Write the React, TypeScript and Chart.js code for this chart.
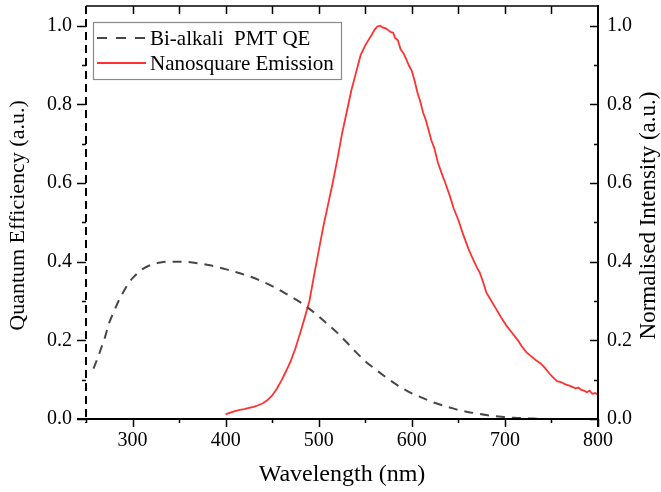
import React, { useEffect, useRef } from 'react';
import { Chart, registerables } from 'chart.js';

Chart.register(...registerables);

const qeWavelength = [258, 262, 266, 270, 275, 280, 285, 290, 295, 300, 310, 320, 330, 340, 350, 360, 370, 380, 390, 400, 410, 420, 430, 440, 450, 460, 470, 480, 490, 500, 510, 520, 530, 540, 550, 560, 570, 580, 590, 600, 610, 620, 630, 640, 650, 660, 670, 680, 690, 700, 710, 720, 730, 740];
const qeValues = [0.128, 0.152, 0.178, 0.205, 0.245, 0.273, 0.3, 0.322, 0.343, 0.358, 0.38, 0.392, 0.398, 0.4, 0.4, 0.399, 0.396, 0.392, 0.387, 0.381, 0.374, 0.367, 0.359, 0.349, 0.338, 0.325, 0.311, 0.297, 0.28, 0.261, 0.24, 0.219, 0.195, 0.17, 0.147, 0.128, 0.11, 0.093, 0.078, 0.065, 0.055, 0.045, 0.037, 0.03, 0.023, 0.018, 0.014, 0.01, 0.007, 0.005, 0.003, 0.002, 0.001, 0.0];

const emWavelength = [400, 405, 410, 415, 420, 425, 430, 435, 440, 445, 450, 455, 460, 465, 470, 475, 480, 485, 490, 495, 500, 505, 510, 515, 520, 525, 530, 535, 540, 545, 550, 553, 557, 560, 563, 566, 569, 572, 575, 577, 580, 582, 585, 588, 591, 594, 597, 600, 603, 606, 609, 612, 615, 618, 621, 624, 628, 632, 636, 641, 645, 650, 655, 661, 665, 670, 673, 677, 680, 685, 691, 696, 702, 708, 714, 718, 723, 728, 733, 738, 743, 748, 752, 756, 760, 765, 770, 773, 776, 779, 782, 785, 788, 791, 794, 797, 800];
const emValues = [0.012, 0.016, 0.02, 0.023, 0.025, 0.028, 0.031, 0.035, 0.04, 0.048, 0.06, 0.077, 0.098, 0.122, 0.148, 0.18, 0.218, 0.258, 0.3, 0.365, 0.428, 0.49, 0.545, 0.6, 0.66, 0.725, 0.78, 0.835, 0.88, 0.925, 0.95, 0.962, 0.977, 0.99, 0.998, 1.0, 0.995, 0.993, 0.988, 0.984, 0.982, 0.969, 0.963, 0.94, 0.93, 0.915, 0.898, 0.885, 0.86, 0.83, 0.808, 0.78, 0.76, 0.735, 0.708, 0.69, 0.652, 0.625, 0.6, 0.566, 0.535, 0.506, 0.47, 0.432, 0.41, 0.385, 0.372, 0.345, 0.322, 0.302, 0.278, 0.258, 0.236, 0.218, 0.2, 0.185, 0.17, 0.16, 0.15, 0.142, 0.13, 0.115, 0.105, 0.096, 0.094, 0.088, 0.084, 0.081, 0.078, 0.08, 0.074, 0.072, 0.068, 0.072, 0.064, 0.066, 0.062];

const xTickValues = [300, 400, 500, 600, 700, 800];
const xMinorValues = [250, 350, 450, 550, 650, 750];
const xTopTickValues = [250, 300, 350, 400, 450, 500, 550, 600, 650, 700, 750, 800];
const yTickValues = [0, 0.2, 0.4, 0.6, 0.8, 1.0];
const yMinorValues = [0.1, 0.3, 0.5, 0.7, 0.9];
const legendLabels = ['Bi-alkali  PMT QE', 'Nanosquare Emission'];
const xTitle = 'Wavelength (nm)';
const yLeftTitle = 'Quantum Efficiency (a.u.)';
const yRightTitle = 'Normalised Intensity (a.u.)';

const FONT = '"Liberation Serif", "Times New Roman", serif';
const QE_COLOR = '#474747';
const EM_COLOR = '#ff3232';

const decorPlugin = {
  id: 'decor',
  afterDraw(chart: any) {
    const { ctx, chartArea } = chart;
    const { left, right, top, bottom } = chartArea;
    const xs = chart.scales.x;
    const yl = chart.scales.y;
    const yr = chart.scales.y1;
    ctx.save();
    ctx.strokeStyle = '#000';
    ctx.lineWidth = 1.5;
    ctx.beginPath();
    ctx.moveTo(left, top);
    ctx.lineTo(right, top);
    ctx.stroke();
    xTopTickValues.forEach((v) => {
      const px = Math.round(xs.getPixelForValue(v)) + 0.5;
      if (px < left + 2 || px > right - 2) return;
      ctx.beginPath();
      ctx.moveTo(px, top);
      ctx.lineTo(px, top + 8);
      ctx.stroke();
    });
    ctx.lineWidth = 2;
    ctx.beginPath();
    ctx.moveTo(left - 9, bottom);
    ctx.lineTo(right, bottom);
    ctx.stroke();
    ctx.lineWidth = 1.5;
    xTickValues.forEach((v) => {
      const px = Math.round(xs.getPixelForValue(v)) + 0.5;
      ctx.beginPath();
      ctx.moveTo(px, bottom);
      ctx.lineTo(px, bottom + 8);
      ctx.stroke();
    });
    xMinorValues.forEach((v) => {
      const px = Math.round(xs.getPixelForValue(v)) + 0.5;
      ctx.beginPath();
      ctx.moveTo(px, bottom);
      ctx.lineTo(px, bottom + 4);
      ctx.stroke();
    });
    ctx.lineWidth = 2;
    ctx.beginPath();
    ctx.moveTo(right, top - 1);
    ctx.lineTo(right, bottom + 8);
    ctx.stroke();
    ctx.lineWidth = 1.5;
    yTickValues.forEach((v) => {
      const py = Math.round(yr.getPixelForValue(v)) + 0.5;
      ctx.beginPath();
      ctx.moveTo(right - 8, py);
      ctx.lineTo(right, py);
      ctx.stroke();
    });
    yMinorValues.forEach((v) => {
      const py = Math.round(yr.getPixelForValue(v)) + 0.5;
      ctx.beginPath();
      ctx.moveTo(right - 4, py);
      ctx.lineTo(right, py);
      ctx.stroke();
    });
    ctx.lineWidth = 2;
    ctx.setLineDash([8, 5]);
    ctx.beginPath();
    ctx.moveTo(left, top);
    ctx.lineTo(left, bottom + 4);
    ctx.stroke();
    ctx.setLineDash([]);
    ctx.lineWidth = 1.5;
    yTickValues.forEach((v) => {
      const py = Math.round(yl.getPixelForValue(v)) + 0.5;
      ctx.beginPath();
      ctx.moveTo(left - 9, py);
      ctx.lineTo(left, py);
      ctx.stroke();
    });
    yMinorValues.forEach((v) => {
      const py = Math.round(yl.getPixelForValue(v)) + 0.5;
      ctx.beginPath();
      ctx.moveTo(left - 4, py);
      ctx.lineTo(left, py);
      ctx.stroke();
    });

    ctx.fillStyle = '#000';
    ctx.textAlign = 'center';
    ctx.textBaseline = 'middle';
    ctx.font = `24px ${FONT}`;
    ctx.fillText(xTitle, (left + right) / 2, 475);
    ctx.font = `22px ${FONT}`;
    ctx.save();
    ctx.translate(18, (top + bottom) / 2 + 3);
    ctx.rotate(-Math.PI / 2);
    ctx.fillText(yLeftTitle, 0, 0);
    ctx.restore();
    ctx.font = `23px ${FONT}`;
    ctx.save();
    ctx.translate(649, (top + bottom) / 2 + 3);
    ctx.rotate(-Math.PI / 2);
    ctx.fillText(yRightTitle, 0, 0);
    ctx.restore();

    const lx = 93.5, ly = 22.5, lw = 248, lh = 57;
    ctx.fillStyle = '#fff';
    ctx.fillRect(lx, ly, lw, lh);
    ctx.strokeStyle = '#8a8a8a';
    ctx.lineWidth = 1.2;
    ctx.strokeRect(lx, ly, lw, lh);
    ctx.lineWidth = 2;
    ctx.strokeStyle = QE_COLOR;
    ctx.setLineDash([10, 9]);
    ctx.beginPath();
    ctx.moveTo(97, 38);
    ctx.lineTo(146, 38);
    ctx.stroke();
    ctx.setLineDash([]);
    ctx.strokeStyle = EM_COLOR;
    ctx.lineWidth = 1.8;
    ctx.beginPath();
    ctx.moveTo(97, 63);
    ctx.lineTo(146, 63);
    ctx.stroke();
    ctx.fillStyle = '#000';
    ctx.font = `21px ${FONT}`;
    ctx.textAlign = 'left';
    ctx.textBaseline = 'middle';
    ctx.fillText(legendLabels[0], 150, 39);
    ctx.fillText(legendLabels[1], 150, 64);
    ctx.restore();
  },
};

function fixPadding(scale: any) {
  scale.paddingTop = 0;
  scale.paddingBottom = 0;
  scale.paddingLeft = 0;
  scale.paddingRight = 0;
}

export default function App() {
  const canvasRef = useRef<HTMLCanvasElement | null>(null);

  useEffect(() => {
    const canvas = canvasRef.current;
    if (!canvas) return;
    const tickFont = { family: FONT, size: 20 };
    const chart = new Chart(canvas, {
      type: 'line',
      data: {
        datasets: [
          {
            label: legendLabels[0],
            data: qeWavelength.map((x, i) => ({ x, y: qeValues[i] })),
            borderColor: QE_COLOR,
            borderWidth: 2,
            borderDash: [9, 7],
            pointRadius: 0,
            cubicInterpolationMode: 'monotone',
            yAxisID: 'y',
          },
          {
            label: legendLabels[1],
            data: emWavelength.map((x, i) => ({ x, y: emValues[i] })),
            borderColor: EM_COLOR,
            borderWidth: 1.8,
            pointRadius: 0,
            tension: 0,
            yAxisID: 'y1',
          },
        ],
      },
      options: {
        animation: false,
        responsive: false,
        devicePixelRatio: 1,
        layout: { padding: { top: 6, left: 0, right: 0, bottom: 0 } },
        plugins: { legend: { display: false }, tooltip: { enabled: false } },
        scales: {
          x: {
            type: 'linear',
            position: 'bottom',
            min: 250,
            max: 800,
            grid: { display: false, drawTicks: false },
            border: { display: false },
            ticks: {
              font: tickFont,
              color: '#000',
              padding: 10,
              autoSkip: false,
              maxRotation: 0,
              callback: (v: any) => String(v),
            },
            afterBuildTicks: (s: any) => {
              s.ticks = xTickValues.map((v) => ({ value: v }));
            },
            afterFit: (s: any) => {
              s.height = 73;
              fixPadding(s);
            },
          },
          y: {
            type: 'linear',
            position: 'left',
            min: 0,
            max: 1.05,
            grid: { display: false, drawTicks: false },
            border: { display: false },
            ticks: {
              font: tickFont,
              color: '#000',
              padding: 14,
              callback: (v: any) => Number(v).toFixed(1),
            },
            afterBuildTicks: (s: any) => {
              s.ticks = yTickValues.map((v) => ({ value: v }));
            },
            afterFit: (s: any) => {
              s.width = 86;
              fixPadding(s);
            },
          },
          y1: {
            type: 'linear',
            position: 'right',
            min: 0,
            max: 1.05,
            grid: { display: false, drawTicks: false },
            border: { display: false },
            ticks: {
              font: tickFont,
              color: '#000',
              padding: 9,
              callback: (v: any) => Number(v).toFixed(1),
            },
            afterBuildTicks: (s: any) => {
              s.ticks = yTickValues.map((v) => ({ value: v }));
            },
            afterFit: (s: any) => {
              s.width = 63;
              fixPadding(s);
            },
          },
        },
      } as any,
      plugins: [decorPlugin],
    });
    return () => chart.destroy();
  }, []);

  return (
    <div style={{ position: 'absolute', left: 0, top: 0, width: 661, height: 492, background: '#fff' }}>
      <canvas ref={canvasRef} width={661} height={492} />
    </div>
  );
}
